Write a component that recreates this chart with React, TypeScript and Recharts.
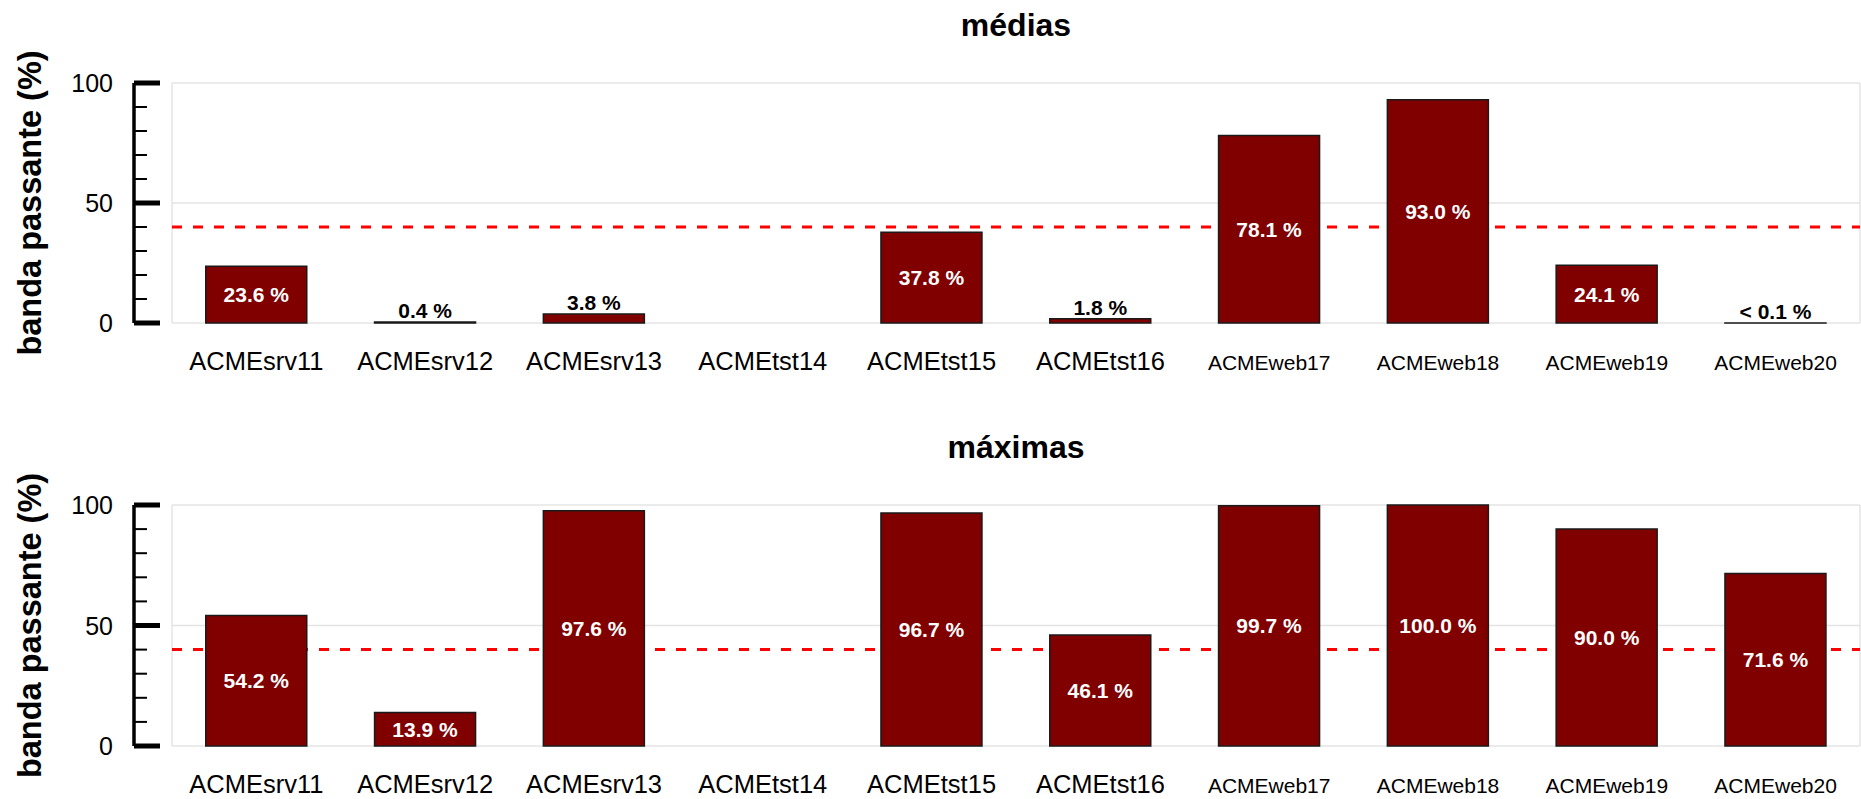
import React from 'react';
import { BarChart, Bar, XAxis, YAxis, CartesianGrid, ReferenceLine, LabelList, Label } from 'recharts';

const categories = [
  'ACMEsrv11', 'ACMEsrv12', 'ACMEsrv13', 'ACMEtst14', 'ACMEtst15',
  'ACMEtst16', 'ACMEweb17', 'ACMEweb18', 'ACMEweb19', 'ACMEweb20',
];
// médias (%), null = sem dados
const mediasValues = [23.6, 0.4, 3.8, null, 37.8, 1.8, 78.1, 93.0, 24.1, 0.05];
// máximas (%)
const maximasValues = [54.2, 13.9, 97.6, null, 96.7, 46.1, 99.7, 100.0, 90.0, 71.6];
const yTicks = [0, 10, 20, 30, 40, 50, 60, 70, 80, 90, 100];
const limitValue = 40;

const FONT = '"Liberation Sans", Arial, sans-serif';

const YTick = (props: any) => {
  const { x, y, payload } = props;
  const major = payload.value % 50 === 0;
  return (
    <g>
      <line x1={x} x2={x + (major ? 26 : 13)} y1={y} y2={y} stroke="#000" strokeWidth={major ? 5 : 2} />
      {major && (
        <text x={x - 21} y={y} dy="0.36em" textAnchor="end" fontSize={25} fill="#000" fontFamily={FONT}>
          {payload.value}
        </text>
      )}
    </g>
  );
};

const XTick = (props: any) => {
  const { x, y, payload } = props;
  const small = String(payload.value).startsWith('ACMEweb');
  return (
    <text x={x} y={y + 47} textAnchor="middle" fontSize={small ? 21 : 25.5} fill="#000" fontFamily={FONT}>
      {payload.value}
    </text>
  );
};

const ValueLabel = (props: any) => {
  const { x, y, width, height, value } = props;
  if (value == null) return null;
  const text = value < 0.1 ? '< 0.1 %' : `${Number(value).toFixed(1)} %`;
  const cx = x + width / 2;
  if (value < 5) {
    return (
      <text x={cx} y={y - 4} textAnchor="middle" fontSize={21} fontWeight="bold" fill="#000" fontFamily={FONT}>
        {text}
      </text>
    );
  }
  return (
    <text x={cx} y={y + height / 2} dy="0.36em" textAnchor="middle" fontSize={21} fontWeight="bold" fill="#fff" fontFamily={FONT}>
      {text}
    </text>
  );
};

const YTitle = (props: any) => {
  const vb = props.viewBox;
  if (!vb) return null;
  const cx = vb.x + 41;
  const cy = vb.y + vb.height / 2;
  return (
    <text x={cx} y={cy} transform={`rotate(-90, ${cx}, ${cy})`} textAnchor="middle" fontSize={32.5} fontWeight="bold" fill="#000" fontFamily={FONT}>
      banda passante (%)
    </text>
  );
};

interface PanelProps {
  values: (number | null)[];
  height: number;
  marginTop: number;
  marginBottom: number;
}

const Panel: React.FC<PanelProps> = ({ values, height, marginTop, marginBottom }) => {
  const data = categories.map((name, i) => ({ name, value: values[i] }));
  return (
    <BarChart
      width={1861}
      height={height}
      data={data}
      margin={{ top: marginTop, right: 1, left: 0, bottom: marginBottom }}
      barCategoryGap="20%"
    >
      <CartesianGrid
        yAxisId="val"
        stroke="#e4e4e4"
        strokeWidth={1.5}
        horizontalCoordinatesGenerator={({ offset }: any) => [offset.top, offset.top + offset.height / 2, offset.top + offset.height]}
        verticalCoordinatesGenerator={({ offset }: any) => [offset.left, offset.left + offset.width]}
      />
      <XAxis dataKey="name" height={50} axisLine={false} tickLine={false} tickSize={0} tickMargin={0} tick={<XTick />} interval={0} />
      <YAxis yAxisId="pad" width={38} domain={[0, 100]} axisLine={false} tickLine={false} tick={false} />
      <YAxis
        yAxisId="val"
        width={134}
        domain={[0, 100]}
        ticks={yTicks}
        interval={0}
        axisLine={{ stroke: '#000', strokeWidth: 3.5 }}
        tickLine={false}
        tickSize={0}
        tickMargin={0}
        tick={<YTick />}
      >
        <Label content={<YTitle />} />
      </YAxis>
      <ReferenceLine yAxisId="val" y={limitValue} stroke="#ff0000" strokeWidth={3} strokeDasharray="10 11" zIndex={250} />
      <Bar yAxisId="val" dataKey="value" fill="#800000" stroke="#1a1a1a" strokeWidth={1.5} isAnimationActive={false}>
        <LabelList dataKey="value" content={<ValueLabel />} />
      </Bar>
    </BarChart>
  );
};

const titleStyle: React.CSSProperties = {
  position: 'absolute',
  left: 172,
  width: 1688,
  textAlign: 'center',
  fontFamily: FONT,
  fontWeight: 'bold',
  fontSize: 32,
  lineHeight: '32px',
  color: '#000',
};

export default function App() {
  return (
    <div style={{ position: 'absolute', left: 0, top: 0, width: 1861, height: 799, background: '#fff', overflow: 'hidden' }}>
      <div style={{ ...titleStyle, top: 9 }}>médias</div>
      <div style={{ position: 'absolute', left: 0, top: 0 }}>
        <Panel values={mediasValues} height={400} marginTop={83} marginBottom={27} />
      </div>
      <div style={{ ...titleStyle, top: 431 }}>máximas</div>
      <div style={{ position: 'absolute', left: 0, top: 400 }}>
        <Panel values={maximasValues} height={399} marginTop={105} marginBottom={3} />
      </div>
    </div>
  );
}
